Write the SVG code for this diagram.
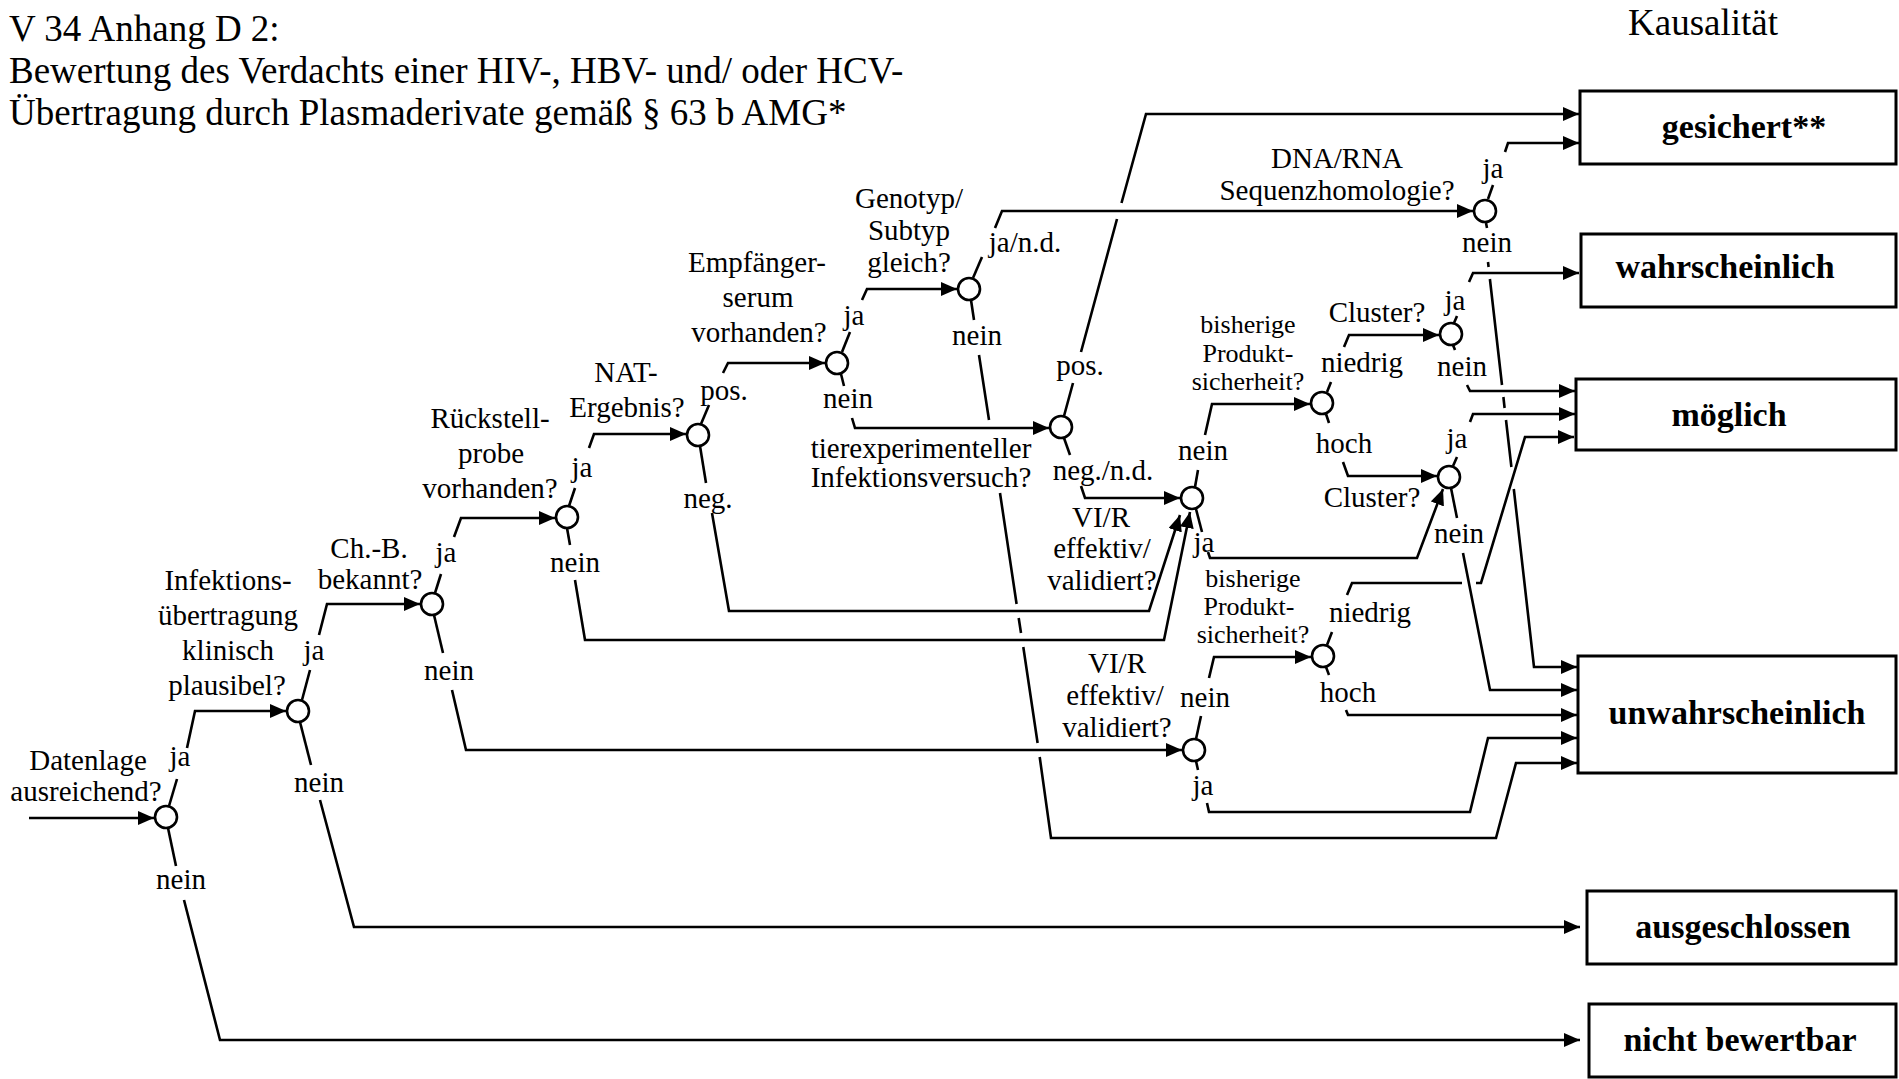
<svg xmlns="http://www.w3.org/2000/svg" width="1899" height="1079" viewBox="0 0 1899 1079">
<style>
.ln{fill:none;stroke:#000;stroke-width:2.6;stroke-linejoin:miter}
.ar{marker-end:url(#ah)}
.nd{fill:#fff;stroke:#000;stroke-width:2.6}
.bx{fill:#fff;stroke:#000;stroke-width:3}
text{font-family:"Liberation Serif","Times New Roman",serif;fill:#000}
.lb{font-size:29px;text-anchor:middle}
.sm{font-size:26px;text-anchor:middle}
.rs{font-size:34px;font-weight:bold;text-anchor:middle}
.tt{font-size:37px}
</style>
<defs>
<marker id="ah" viewBox="0 0 16 14" refX="16" refY="7" markerWidth="16" markerHeight="14" markerUnits="userSpaceOnUse" orient="auto"><path d="M0,0 L16,7 L0,14 z" fill="#000"/></marker>
</defs>
<rect width="1899" height="1079" fill="#fff"/>
<g id="title">
<text class="tt" x="9" y="41">V 34 Anhang D 2:</text>
<text class="tt" x="9" y="83">Bewertung des Verdachts einer HIV-, HBV- und/ oder HCV-</text>
<text class="tt" x="9" y="125">Übertragung durch Plasmaderivate gemäß § 63 b AMG*</text>
<text class="tt" x="1703" y="35" text-anchor="middle">Kausalität</text>
</g>
<g id="connectors">
<path class="ln ar" d="M29,818 H154"/>
<path class="ln" d="M169,806 L177,779"/><path class="ln ar" d="M187,748 L195,711 H286"/>
<path class="ln" d="M168,828 L176,866"/><path class="ln ar" d="M184,900 L220,1040 H1580"/>
<path class="ln" d="M302,700 L310,670"/><path class="ln ar" d="M319,635 L327,604 H420"/>
<path class="ln" d="M300,722 L311,765"/><path class="ln ar" d="M320,800 L354,927 H1580"/>
<path class="ln" d="M435,593 L441,574"/><path class="ln ar" d="M454,537 L461,518 H555"/>
<path class="ln" d="M434,615 L443,653"/><path class="ln ar" d="M452,690 L466,750 H1182"/>
<path class="ln" d="M569,506 L575,488"/><path class="ln ar" d="M589,448 L594,434 H686"/>
<path class="ln" d="M567,528 L570,545"/><path class="ln ar" d="M575,580 L585,640 H1164 L1190,512"/>
<path class="ln" d="M701,424 L709,405"/><path class="ln ar" d="M723,373 L728,363 H825"/>
<path class="ln" d="M700,446 L706,483"/><path class="ln ar" d="M712,513 L729,611 H1149 L1180,515"/>
<path class="ln" d="M842,352 L850,332"/><path class="ln ar" d="M862,300 L867,289 H957"/>
<path class="ln" d="M841,374 L844,386"/><path class="ln ar" d="M852,418 L855,428 H1049"/>
<path class="ln" d="M973,278 L982,257"/><path class="ln ar" d="M995,228 L1002,211 H1473"/>
<path class="ln" d="M971,300 L974,320 M979,355 L989,420 M1000,493 L1016.6,604 M1018.7,618 L1021,633 M1023.3,647 L1037.6,743"/>
<path class="ln ar" d="M1039.7,757 L1051,838 H1496 L1516,763 H1577"/>
<path class="ln" d="M1064,416 L1073,383 M1081,352 L1117,219"/><path class="ln ar" d="M1121.5,203 L1146,114 H1579"/>
<path class="ln" d="M1064,438 L1070,455"/><path class="ln ar" d="M1081,486 L1085,498 H1180"/>
<path class="ln" d="M1195,487 L1198,470"/><path class="ln ar" d="M1205,435 L1212,404 H1310"/>
<path class="ln" d="M1196,509 L1202,532"/><path class="ln ar" d="M1208,552 L1210,558 H1417 L1443,489"/>
<path class="ln" d="M1327,392 L1331,382"/><path class="ln ar" d="M1344,347 L1349,335 H1439"/>
<path class="ln" d="M1326,414 L1329,423"/><path class="ln ar" d="M1343,462 L1348,476 H1437"/>
<path class="ln" d="M1454,323 L1457,316"/><path class="ln ar" d="M1469,282 L1473,273 H1579"/>
<path class="ln" d="M1453,345 L1455,350"/><path class="ln ar" d="M1467,385 L1470,391 H1575"/>
<path class="ln" d="M1453,466 L1457,457"/><path class="ln ar" d="M1470,422 L1473,414 H1575"/>
<path class="ln" d="M1451,488 L1457,518"/><path class="ln ar" d="M1463,553 L1490,690 H1577"/>
<path class="ln" d="M1488,199 L1493,185"/><path class="ln ar" d="M1505,152 L1508,143 H1579"/>
<path class="ln" d="M1486,223 L1487,228 M1488,262 L1488.6,267 M1489.9,279 L1502,385 M1503.4,397 L1504.6,408 M1506,420 L1511.4,467"/>
<path class="ln ar" d="M1513.8,489 L1534,667 H1577"/>
<path class="ln" d="M1327,645 L1332,632 M1347,595 L1352,583 H1462"/><path class="ln ar" d="M1476,583 H1481 L1525,437 H1574"/>
<path class="ln" d="M1326,667 L1329,675"/><path class="ln ar" d="M1346,710 L1348,715 H1577"/>
<path class="ln" d="M1196,739 L1201,716"/><path class="ln ar" d="M1209,678 L1214,657 H1311"/>
<path class="ln" d="M1196,761 L1198,770"/><path class="ln ar" d="M1207,803 L1209,812 H1470 L1488,738 H1577"/>
</g>
<g id="n1"><circle class="nd" cx="166" cy="817" r="11"/>
<text class="lb" x="88" y="770">Datenlage</text><text class="lb" x="86" y="801">ausreichend?</text>
<text class="lb" x="180" y="766">ja</text><text class="lb" x="181" y="889">nein</text></g>
<g id="n2"><circle class="nd" cx="298" cy="711" r="11"/>
<text class="lb" x="228" y="590">Infektions-</text><text class="lb" x="228" y="625">übertragung</text><text class="lb" x="228" y="660">klinisch</text><text class="lb" x="227" y="695">plausibel?</text>
<text class="lb" x="314" y="660">ja</text><text class="lb" x="319" y="792">nein</text></g>
<g id="n3"><circle class="nd" cx="432" cy="604" r="11"/>
<text class="lb" x="369" y="558">Ch.-B.</text><text class="lb" x="370" y="589">bekannt?</text>
<text class="lb" x="446" y="562">ja</text><text class="lb" x="449" y="680">nein</text></g>
<g id="n4"><circle class="nd" cx="567" cy="517" r="11"/>
<text class="lb" x="490" y="428">Rückstell-</text><text class="lb" x="491" y="463">probe</text><text class="lb" x="490" y="498">vorhanden?</text>
<text class="lb" x="582" y="477">ja</text><text class="lb" x="575" y="572">nein</text></g>
<g id="n5"><circle class="nd" cx="698" cy="435" r="11"/>
<text class="lb" x="626" y="382">NAT-</text><text class="lb" x="627" y="417">Ergebnis?</text>
<text class="lb" x="724" y="400">pos.</text><text class="lb" x="708" y="508">neg.</text></g>
<g id="n6"><circle class="nd" cx="837" cy="363" r="11"/>
<text class="lb" x="757" y="272">Empfänger-</text><text class="lb" x="758" y="307">serum</text><text class="lb" x="759" y="342">vorhanden?</text>
<text class="lb" x="854" y="325">ja</text><text class="lb" x="848" y="408">nein</text></g>
<g id="n7"><circle class="nd" cx="969" cy="289" r="11"/>
<text class="lb" x="909" y="208">Genotyp/</text><text class="lb" x="909" y="240">Subtyp</text><text class="lb" x="909" y="272">gleich?</text>
<text class="lb" x="1025" y="252">ja/n.d.</text><text class="lb" x="977" y="345">nein</text></g>
<g id="n8"><circle class="nd" cx="1061" cy="427" r="11"/>
<text class="lb" x="921" y="458">tierexperimenteller</text><text class="lb" x="921" y="487">Infektionsversuch?</text>
<text class="lb" x="1080" y="375">pos.</text><text class="lb" x="1103" y="480">neg./n.d.</text></g>
<g id="n9"><circle class="nd" cx="1192" cy="498" r="11"/>
<text class="lb" x="1101" y="527">VI/R</text><text class="lb" x="1102" y="558">effektiv/</text><text class="lb" x="1102" y="590">validiert?</text>
<text class="lb" x="1203" y="460">nein</text><text class="lb" x="1204" y="552">ja</text></g>
<g id="n10"><circle class="nd" cx="1322" cy="403" r="11"/>
<text class="sm" x="1248" y="333">bisherige</text><text class="sm" x="1248" y="362">Produkt-</text><text class="sm" x="1248" y="390">sicherheit?</text>
<text class="lb" x="1362" y="372">niedrig</text><text class="lb" x="1344" y="453">hoch</text></g>
<g id="n11"><circle class="nd" cx="1451" cy="334" r="11"/>
<text class="lb" x="1377" y="322">Cluster?</text>
<text class="lb" x="1455" y="310">ja</text><text class="lb" x="1462" y="376">nein</text></g>
<g id="n12"><circle class="nd" cx="1449" cy="477" r="11"/>
<text class="lb" x="1372" y="507">Cluster?</text>
<text class="lb" x="1457" y="448">ja</text><text class="lb" x="1459" y="543">nein</text></g>
<g id="n13"><circle class="nd" cx="1485" cy="211" r="11"/>
<text class="lb" x="1337" y="168">DNA/RNA</text><text class="lb" x="1337" y="200">Sequenzhomologie?</text>
<text class="lb" x="1493" y="178">ja</text><text class="lb" x="1487" y="252">nein</text></g>
<g id="n14"><circle class="nd" cx="1323" cy="656" r="11"/>
<text class="sm" x="1253" y="587">bisherige</text><text class="sm" x="1249" y="615">Produkt-</text><text class="sm" x="1253" y="643">sicherheit?</text>
<text class="lb" x="1370" y="622">niedrig</text><text class="lb" x="1348" y="702">hoch</text></g>
<g id="n15"><circle class="nd" cx="1194" cy="750" r="11"/>
<text class="lb" x="1117" y="673">VI/R</text><text class="lb" x="1115" y="705">effektiv/</text><text class="lb" x="1117" y="737">validiert?</text>
<text class="lb" x="1205" y="707">nein</text><text class="lb" x="1203" y="795">ja</text></g>
<g id="r-gesichert"><rect class="bx" x="1580" y="91" width="316" height="73"/><text class="rs" x="1744" y="138">gesichert**</text></g>
<g id="r-wahrscheinlich"><rect class="bx" x="1581" y="234" width="315" height="73"/><text class="rs" x="1725" y="278">wahrscheinlich</text></g>
<g id="r-moeglich"><rect class="bx" x="1576" y="379" width="320" height="71"/><text class="rs" x="1729" y="426">möglich</text></g>
<g id="r-unwahrscheinlich"><rect class="bx" x="1578" y="656" width="318" height="117"/><text class="rs" x="1737" y="724">unwahrscheinlich</text></g>
<g id="r-ausgeschlossen"><rect class="bx" x="1587" y="891" width="309" height="73"/><text class="rs" x="1743" y="938">ausgeschlossen</text></g>
<g id="r-nichtbewertbar"><rect class="bx" x="1589" y="1004" width="307" height="73"/><text class="rs" x="1740" y="1051">nicht bewertbar</text></g>
</svg>
